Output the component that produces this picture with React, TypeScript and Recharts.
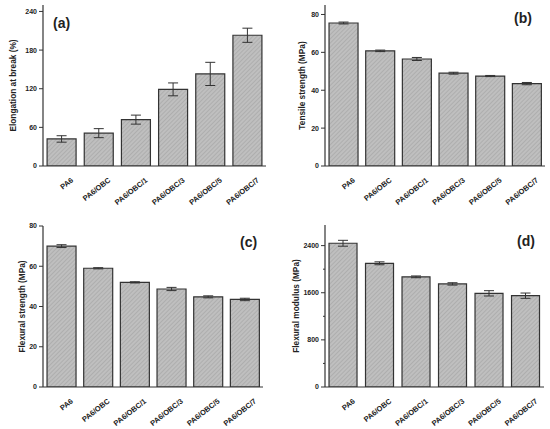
import { BarChart, Bar, XAxis, YAxis, ErrorBar } from 'recharts';

const samples = ['PA6', 'PA6/OBC', 'PA6/OBC/1', 'PA6/OBC/3', 'PA6/OBC/5', 'PA6/OBC/7'];

const elongation = [42, 51, 72, 119, 143, 203];
const elongationErr = [5, 7, 7, 10, 18, 11];
const tensile = [75.5, 60.8, 56.5, 49, 47.5, 43.5];
const tensileErr = [0.5, 0.4, 0.8, 0.5, 0.3, 0.6];
const flexStrength = [70, 59, 52, 48.7, 44.8, 43.5];
const flexStrengthErr = [0.7, 0.3, 0.3, 0.8, 0.5, 0.6];
const flexModulus = [2440, 2100, 1870, 1750, 1590, 1550];
const flexModulusErr = [50, 25, 15, 20, 45, 45];

const FONT = 'Arial, "Liberation Sans", sans-serif';
const AXIS = '#333';

const XTick = ({ x, y, payload }: any) => (
  <text
    x={x + 9}
    y={y + 3}
    textAnchor="end"
    transform={`rotate(-38, ${x + 9}, ${y + 3})`}
    fontSize={7.5}
    fontWeight="bold"
    fontFamily={FONT}
    fill="#222"
    dy="0.7em"
  >
    {payload.value}
  </text>
);

function makeYTick(major: number) {
  return ({ x, y, payload }: any) => {
    const isMajor = Math.abs(payload.value / major - Math.round(payload.value / major)) < 1e-6;
    const right = x + 6;
    return (
      <g>
        <line x1={right - (isMajor ? 4 : 2)} x2={right} y1={y} y2={y} stroke={AXIS} strokeWidth={1} />
        {isMajor && (
          <text x={right - 6} y={y} dy="0.35em" textAnchor="end" fontSize={7} fontWeight="bold" fontFamily={FONT} fill="#222">
            {payload.value}
          </text>
        )}
      </g>
    );
  };
}

function Panel(props: {
  left: number; top: number; width: number; height: number;
  margin: { top: number; right: number; bottom: number; left: number };
  yWidth: number; xHeight: number; labelX: number; values: number[]; errors: number[]; domain: [number, number];
  ticks: number[]; major: number; ylabel: string; tag: string; tagX: number; tagY: number; id: string;
}) {
  const data = samples.map((s, i) => ({ name: s, v: props.values[i], e: props.errors[i] }));
  return (
    <div style={{ position: 'absolute', left: props.left, top: props.top }}>
      <BarChart width={props.width} height={props.height} data={data} margin={props.margin} barCategoryGap="11%">
        <defs>
          <pattern id={`hatch-${props.id}`} width={3} height={3} patternUnits="userSpaceOnUse" patternTransform="rotate(45)">
            <rect width={3} height={3} fill="#bfbfbf" />
            <line x1={0} y1={0} x2={0} y2={3} stroke="#a0a0a0" strokeWidth={1.1} />
          </pattern>
        </defs>
        <XAxis
          dataKey="name"
          height={props.xHeight}
          tick={<XTick />}
          tickLine={false}
          axisLine={{ stroke: AXIS, strokeWidth: 1.2 }}
          interval={0}
        />
        <XAxis xAxisId="top" dataKey="name" orientation="top" height={0} tick={false} tickLine={false} axisLine={{ stroke: AXIS, strokeWidth: 1.2 }} />
        <YAxis
          width={props.yWidth}
          domain={props.domain}
          ticks={props.ticks}
          tick={makeYTick(props.major)}
          tickLine={false}
          tickSize={4}
          tickMargin={2}
          allowDataOverflow
          axisLine={{ stroke: AXIS, strokeWidth: 1.2 }}
          label={{
            content: ({ viewBox }: any) => {
              const cx = viewBox.x + props.labelX;
              const cy = viewBox.y + viewBox.height / 2;
              return (
                <text x={cx} y={cy} transform={`rotate(-90, ${cx}, ${cy})`} textAnchor="middle" dy="0.35em" fontSize={8.3} fontWeight="bold" fontFamily={FONT} fill="#222">
                  {props.ylabel}
                </text>
              );
            },
          }}
        />
        <YAxis yAxisId="right" orientation="right" width={0} tick={false} tickLine={false} axisLine={{ stroke: AXIS, strokeWidth: 1.2 }} />
        <Bar dataKey="v" fill={`url(#hatch-${props.id})`} stroke="#333" strokeWidth={1.2} isAnimationActive={false}>
          <ErrorBar dataKey="e" width={5} stroke="#333" strokeWidth={1} direction="y" />
        </Bar>
      </BarChart>
      <div
        style={{
          position: 'absolute', left: props.tagX, top: props.tagY, fontFamily: FONT,
          fontWeight: 'bold', fontSize: 14, color: '#222', lineHeight: 1,
        }}
      >
        {props.tag}
      </div>
    </div>
  );
}

export default function App() {
  return (
    <div style={{ position: 'absolute', left: 0, top: 0, width: 550, height: 429, background: '#fff', overflow: 'hidden' }}>
      <Panel id="a" left={0} top={0} width={275} height={215}
        margin={{ top: 5, right: 9, bottom: 0, left: 0 }} yWidth={43} xHeight={49} labelX={13}
        values={elongation} errors={elongationErr} domain={[0, 250]}
        ticks={[0, 30, 60, 90, 120, 150, 180, 210, 240]} major={60}
        ylabel="Elongation at break (%)" tag="(a)" tagX={53} tagY={16} />
      <Panel id="b" left={275} top={0} width={275} height={215}
        margin={{ top: 5, right: 5, bottom: 0, left: 0 }} yWidth={50} xHeight={49} labelX={27}
        values={tensile} errors={tensileErr} domain={[0, 85]}
        ticks={[0, 10, 20, 30, 40, 50, 60, 70, 80]} major={20}
        ylabel="Tensile strength (MPa)" tag="(b)" tagX={239} tagY={11} />
      <Panel id="c" left={0} top={215} width={275} height={214}
        margin={{ top: 11, right: 12, bottom: 0, left: 0 }} yWidth={43} xHeight={42} labelX={22}
        values={flexStrength} errors={flexStrengthErr} domain={[0, 80]}
        ticks={[0, 10, 20, 30, 40, 50, 60, 70, 80]} major={20}
        ylabel="Flexural strength (MPa)" tag="(c)" tagX={240} tagY={20} />
      <Panel id="d" left={275} top={215} width={275} height={214}
        margin={{ top: 10, right: 6, bottom: 0, left: 0 }} yWidth={50} xHeight={42} labelX={21}
        values={flexModulus} errors={flexModulusErr} domain={[0, 2750]}
        ticks={[0, 400, 800, 1200, 1600, 2000, 2400]} major={800}
        ylabel="Flexural modulus (MPa)" tag="(d)" tagX={242} tagY={19} />
    </div>
  );
}
